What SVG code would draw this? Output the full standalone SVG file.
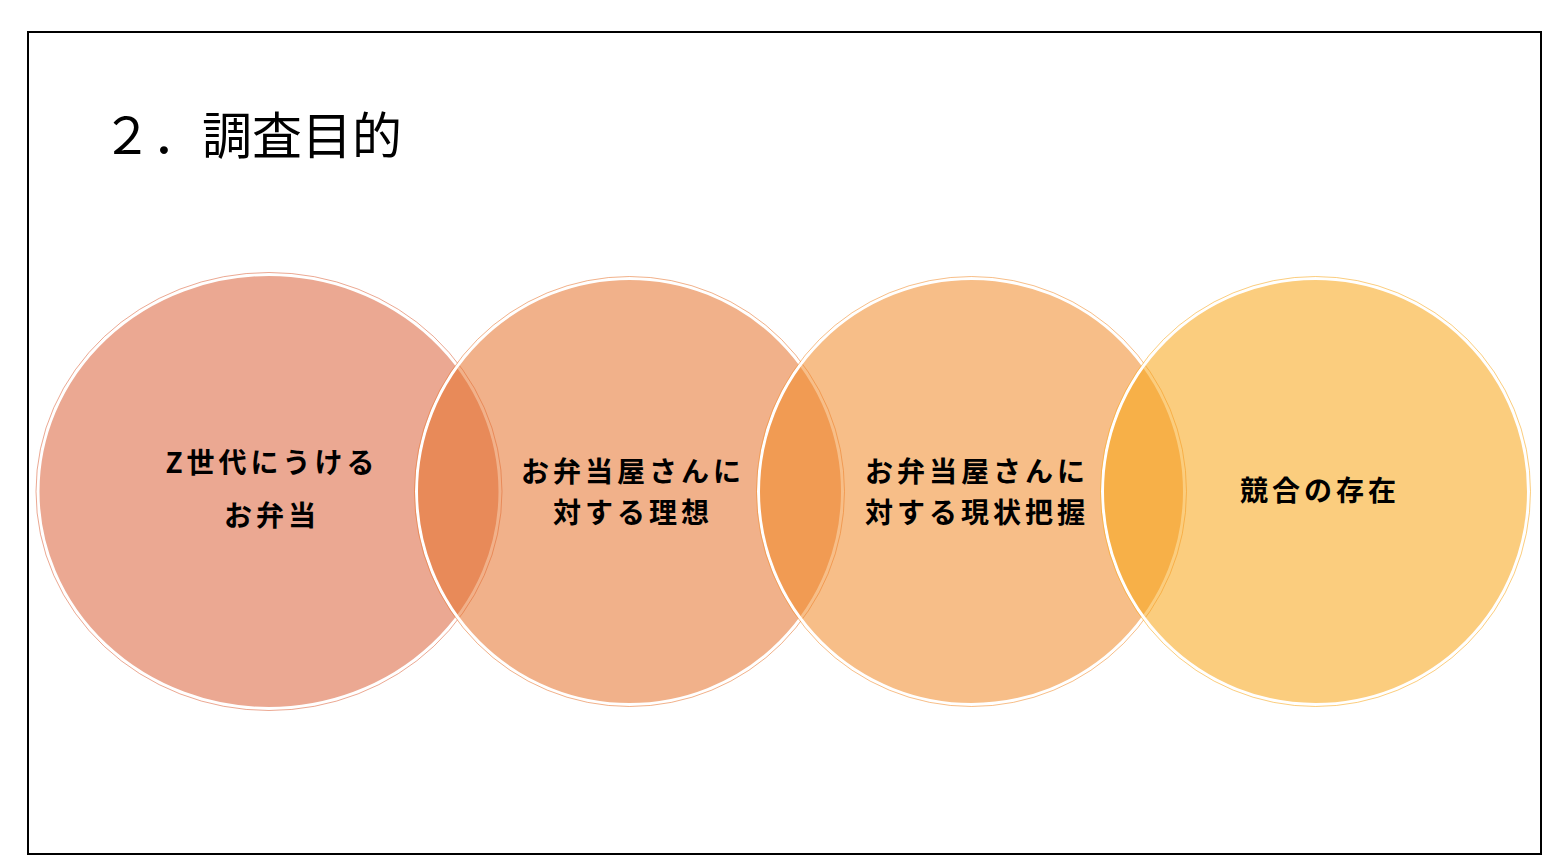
<svg xmlns="http://www.w3.org/2000/svg" width="1558" height="865" viewBox="0 0 1558 865">
  <style>
    .frame { fill: #ffffff; stroke: #000000; stroke-width: 2; }
    .title { font-family: "Noto Sans CJK JP", "Liberation Sans", sans-serif; font-size: 50px; fill: #000000; }
    .lbl { font-family: "Noto Sans CJK JP", "Liberation Sans", sans-serif; font-size: 28px; font-weight: bold; fill: #000000; text-anchor: middle; letter-spacing: 4px; }
    .disc { fill-opacity: 0.55; stroke: #ffffff; stroke-width: 3; }
    .ring { fill: none; stroke-width: 1; stroke-opacity: 0.55; }
  </style>
  <rect class="frame" x="28" y="32" width="1513" height="822"/>
  <text class="title" x="102" y="154">２．調査目的</text>

  <g id="connectors"></g>

  <g id="node1">
    <ellipse class="disc" cx="269" cy="491.5" rx="231" ry="217" fill="#DB6139"/>
    <ellipse class="ring" cx="269" cy="491.5" rx="233" ry="219" stroke="#DB6139"/>
    <text class="lbl" x="272" y="473">Z世代にうける</text>
    <text class="lbl" x="272" y="526">お弁当</text>
  </g>
  <g id="node2">
    <circle class="disc" cx="629.5" cy="491.5" r="213" fill="#E6712A"/>
    <circle class="ring" cx="629.5" cy="491.5" r="215" stroke="#E6712A"/>
    <text class="lbl" x="633" y="482">お弁当屋さんに</text>
    <text class="lbl" x="633" y="523">対する理想</text>
  </g>
  <g id="node3">
    <circle class="disc" cx="971.5" cy="491.5" r="213" fill="#F08927"/>
    <circle class="ring" cx="971.5" cy="491.5" r="215" stroke="#F08927"/>
    <text class="lbl" x="977" y="482">お弁当屋さんに</text>
    <text class="lbl" x="977" y="523">対する現状把握</text>
  </g>
  <g id="node4">
    <circle class="disc" cx="1315.5" cy="491.5" r="213" fill="#F8A414"/>
    <circle class="ring" cx="1315.5" cy="491.5" r="215" stroke="#F8A414"/>
    <text class="lbl" x="1320" y="501">競合の存在</text>
  </g>
</svg>
